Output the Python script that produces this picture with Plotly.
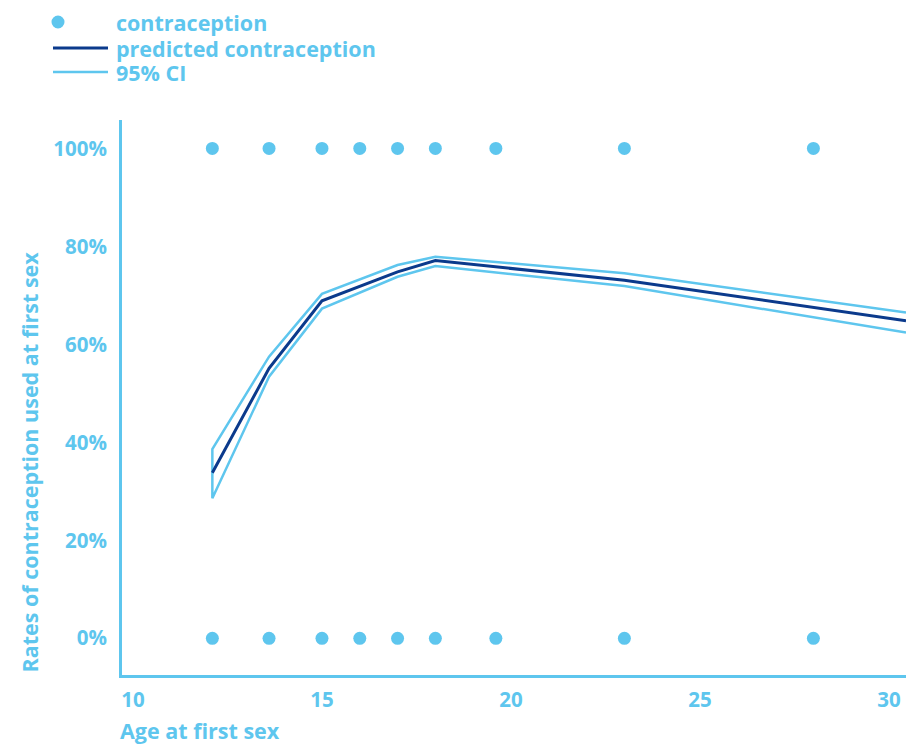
import plotly.graph_objects as go

# Observed outcomes (used / not used contraception) by age at first sex
obs_ages = [12.1, 13.6, 15, 16, 17, 18, 19.6, 23, 28]
obs_used = [100] * len(obs_ages)
obs_not_used = [0] * len(obs_ages)

# Fitted curve with 95% confidence band
fit_ages = [12.1, 13.6, 15, 17, 18, 23, 30.45]
predicted = [33.8, 55.1, 68.9, 74.8, 77.1, 73.1, 64.8]
ci_upper = [38.6, 57.5, 70.3, 76.2, 77.9, 74.5, 66.5]
ci_lower = [28.6, 53.4, 67.3, 73.8, 76.0, 71.9, 62.4]

x_ticks = [10, 15, 20, 25, 30]
y_ticks = [0, 20, 40, 60, 80, 100]
y_tick_labels = ["0%", "20%", "40%", "60%", "80%", "100%"]

LIGHT = "#5EC6EE"
DARK = "#0B3A8C"
FONT = "Open Sans"

fig = go.Figure()

# confidence band outline: along the upper bound right-to-left, then the lower bound left-to-right
fig.add_trace(go.Scatter(
    x=fit_ages[::-1] + fit_ages,
    y=ci_upper[::-1] + ci_lower,
    mode="lines",
    line=dict(color=LIGHT, width=2.5),
    name="95% CI",
    showlegend=False,
))
fig.add_trace(go.Scatter(
    x=fit_ages, y=predicted,
    mode="lines",
    line=dict(color=DARK, width=3),
    name="predicted contraception",
    showlegend=False,
))
fig.add_trace(go.Scatter(
    x=obs_ages + obs_ages,
    y=obs_used + obs_not_used,
    mode="markers",
    marker=dict(color=LIGHT, size=13),
    name="contraception",
    showlegend=False,
    cliponaxis=False,
))

tick_font = dict(family=FONT, size=20.5, color=LIGHT, weight="bold")

fig.update_xaxes(
    range=[9.71, 30.45],
    tickvals=x_ticks,
    showgrid=False, zeroline=False,
    showline=True, linecolor=LIGHT, linewidth=3,
    ticks="", tickfont=tick_font,
    ticklabelstandoff=4,
)
fig.update_yaxes(
    range=[-7.49, 105.8],
    tickvals=y_ticks,
    ticktext=y_tick_labels,
    showgrid=False, zeroline=False,
    showline=True, linecolor=LIGHT, linewidth=3,
    ticks="", tickfont=tick_font,
    ticklabelstandoff=8,
)

W, H = 906, 745
L, R, T, B = 122, 0, 120, 70
pw, ph = W - L - R, H - T - B


def px(x):
    return (x - L) / pw


def py(y):
    return (H - B - y) / ph


text_font = dict(family=FONT, size=21.5, color=LIGHT, weight="bold")

# legend: compact text boxes (bottom-aligned so descenders stay inside)
legend_rows = [
    ("contraception", 22),
    ("predicted contraception", 48),
    ("95% CI", 72),
]
for label, yy in legend_rows:
    fig.add_annotation(
        x=px(115), y=py(yy + 2.6), xref="paper", yref="paper",
        text=label, showarrow=False, xanchor="left", yanchor="middle",
        height=24, valign="bottom", borderpad=0,
        font=text_font,
    )
fig.add_shape(
    type="circle", xref="paper", yref="paper",
    xsizemode="pixel", ysizemode="pixel",
    xanchor=px(58), yanchor=py(22),
    x0=-6.5, x1=6.5, y0=-6.5, y1=6.5,
    fillcolor=LIGHT, line=dict(width=0),
)
fig.add_shape(
    type="line", xref="paper", yref="paper",
    x0=px(53), x1=px(108), y0=py(48), y1=py(48),
    line=dict(color=DARK, width=3),
)
fig.add_shape(
    type="line", xref="paper", yref="paper",
    x0=px(53), x1=px(108), y0=py(72), y1=py(72),
    line=dict(color=LIGHT, width=2.5),
)

# axis titles
fig.add_annotation(
    x=px(118), y=py(730), xref="paper", yref="paper",
    text="Age at first sex", showarrow=False,
    xanchor="left", yanchor="middle", font=text_font,
)
fig.add_annotation(
    x=px(29), y=py(675), xref="paper", yref="paper",
    text="Rates of contraception used at first sex", showarrow=False,
    textangle=-90, xanchor="center", yanchor="bottom", font=text_font,
)

fig.update_layout(
    width=W, height=H,
    margin=dict(l=L, r=R, t=T, b=B),
    paper_bgcolor="white", plot_bgcolor="white",
    showlegend=False,
)

fig.write_html("out.html")
